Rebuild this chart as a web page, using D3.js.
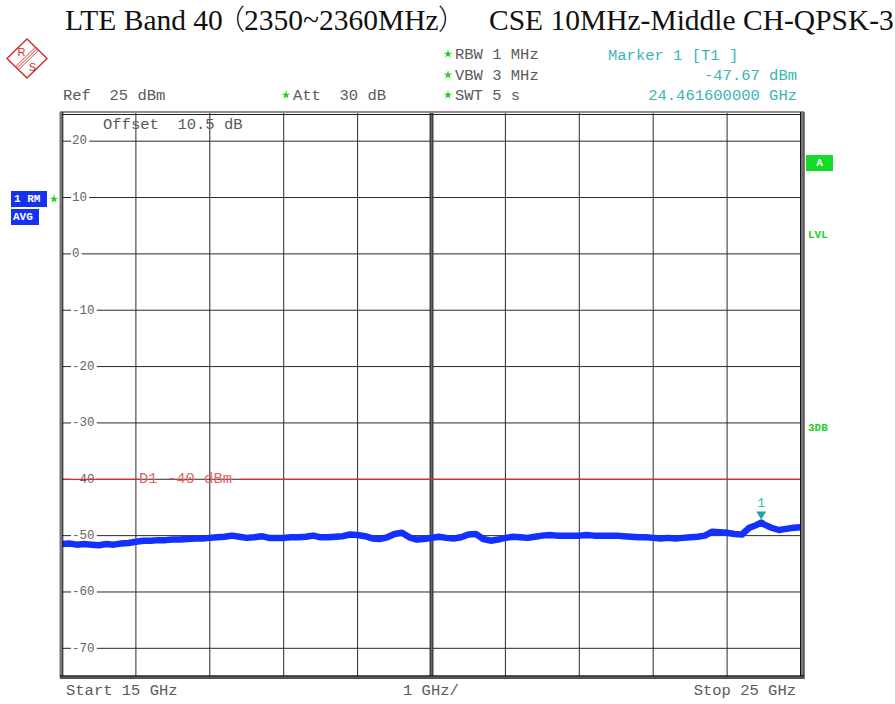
<!DOCTYPE html>
<html>
<head>
<meta charset="utf-8">
<script src="https://cdn.jsdelivr.net/npm/d3@7/dist/d3.min.js"></script>
<style>
  body { margin: 0; background: #fff; }
  svg { display: block; }
</style>
</head>
<body>
<svg id="chart" width="895" height="704"></svg>
<script>
// Spectrum trace: frequency (GHz) and RMS-averaged level (dBm)
const freqGHz = [
  15.0, 15.1, 15.2, 15.3, 15.4, 15.5, 15.6, 15.7, 15.8, 15.9,
  16.0, 16.1, 16.2, 16.3, 16.4, 16.5, 16.6, 16.7, 16.8, 16.9,
  17.0, 17.1, 17.2, 17.3, 17.4, 17.5, 17.6, 17.7, 17.8, 17.9,
  18.0, 18.1, 18.2, 18.3, 18.4, 18.5, 18.6, 18.7, 18.8, 18.9,
  19.0, 19.1, 19.2, 19.3, 19.4, 19.5, 19.6, 19.7, 19.8, 19.9,
  20.0, 20.1, 20.2, 20.3, 20.4, 20.5, 20.6, 20.7, 20.8, 20.9,
  21.0, 21.1, 21.2, 21.3, 21.4, 21.5, 21.6, 21.7, 21.8, 21.9,
  22.0, 22.1, 22.2, 22.3, 22.4, 22.5, 22.6, 22.7, 22.8, 22.9,
  23.0, 23.1, 23.2, 23.3, 23.4, 23.5, 23.6, 23.7, 23.8, 23.9,
  24.0, 24.1, 24.2, 24.3, 24.4, 24.4616, 24.5, 24.6, 24.7, 24.8, 24.9, 25.0
];
const levelDbm = [
  -51.5, -51.4, -51.6, -51.5, -51.6, -51.7, -51.5, -51.6, -51.4, -51.3,
  -51.1, -50.9, -50.9, -50.8, -50.8, -50.7, -50.7, -50.6, -50.5, -50.5,
  -50.4, -50.3, -50.2, -50.0, -50.2, -50.4, -50.3, -50.1, -50.4, -50.4,
  -50.4, -50.3, -50.3, -50.2, -50.0, -50.3, -50.3, -50.2, -50.1, -49.8,
  -49.9, -50.1, -50.5, -50.6, -50.3, -49.7, -49.5, -50.3, -50.7, -50.6,
  -50.4, -50.2, -50.4, -50.5, -50.3, -49.8, -49.7, -50.6, -50.9, -50.7,
  -50.4, -50.2, -50.3, -50.4, -50.2, -50.0, -49.9, -50.0, -50.0, -50.0,
  -50.0, -49.9, -50.0, -50.0, -50.0, -50.0, -50.1, -50.2, -50.3, -50.3,
  -50.4, -50.5, -50.4, -50.5, -50.4, -50.3, -50.2, -50.0, -49.3, -49.4,
  -49.5, -49.7, -49.8, -48.6, -48.1, -47.67, -48.0, -48.6, -49.0, -48.8, -48.6, -48.5
];

// Axis settings
const yTicks = [20, 10, 0, -10, -20, -30, -40, -50, -60, -70];
const xDivisions = [16, 17, 18, 19, 20, 21, 22, 23, 24];
const refLevel = 25;
const bottomLevel = -75;
const startGHz = 15;
const stopGHz = 25;
const displayLineDbm = -40;
const markerFreqGHz = 24.4616;
const markerLevelDbm = -47.67;

const svg = d3.select("#chart");
const mono = "'Liberation Mono', 'Courier New', monospace";
const serif = "'Liberation Serif', 'Times New Roman', serif";
const cjk = "'Noto Sans CJK SC', sans-serif";
const textGray = "#5a5a5a";
const starGreen = "#1ed21e";
const teal = "#3ab5b5";

const plotL = 62, plotR = 801, plotT = 113, plotB = 676.5;
const x = d3.scaleLinear([startGHz, stopGHz], [plotL, plotR]);
const y = d3.scaleLinear([bottomLevel, refLevel], [plotB, plotT]);

// Title
const title = svg.append("text")
  .attr("y", 30)
  .attr("font-family", serif)
  .attr("font-size", 29.5)
  .attr("fill", "#111");
title.append("tspan").attr("x", 65).text("LTE Band 40");
title.append("tspan").attr("x", 217).attr("font-family", cjk).attr("font-weight", 300).attr("font-size", 28).text("（");
title.append("tspan").attr("x", 244).text("2350~2360MHz");
title.append("tspan").attr("x", 438).attr("font-family", cjk).attr("font-weight", 300).attr("font-size", 28).text("）");
title.append("tspan").attr("x", 489).text("CSE 10MHz-Middle CH-QPSK-3");

// Rohde & Schwarz logo
const logo = svg.append("g").attr("transform", "translate(27,58.5)");
logo.append("path")
  .attr("d", "M0,-19.5 L20,0 L0,19.5 L-20,0 Z")
  .attr("fill", "none").attr("stroke", "#d42a2a").attr("stroke-width", 1.4);
[-2.2, 0, 2.2].forEach(o => {
  logo.append("line")
    .attr("x1", -10 + o * 0.7).attr("y1", 9.75 + o * 0.7)
    .attr("x2", 10 + o * 0.7).attr("y2", -9.75 + o * 0.7)
    .attr("stroke", "#d42a2a").attr("stroke-width", 0.9);
});
logo.append("text").attr("x", -5.5).attr("y", -2.5).attr("text-anchor", "middle")
  .attr("font-family", "'Liberation Sans', sans-serif").attr("font-size", 11)
  .attr("fill", "#d42a2a").text("R");
logo.append("text").attr("x", 5.5).attr("y", 12).attr("text-anchor", "middle")
  .attr("font-family", "'Liberation Sans', sans-serif").attr("font-size", 11)
  .attr("fill", "#d42a2a").text("S");

// Small green enhancement stars
function star(cx, cy) {
  svg.append("path")
    .attr("transform", `translate(${cx},${cy})`)
    .attr("d", d3.symbol(d3.symbolStar, 22)())
    .attr("fill", starGreen);
}

function monoText(tx, ty, str, opts = {}) {
  return svg.append("text")
    .attr("x", tx).attr("y", ty)
    .attr("font-family", mono)
    .attr("font-size", opts.size || 15.5)
    .attr("fill", opts.fill || textGray)
    .attr("text-anchor", opts.anchor || "start")
    .attr("dominant-baseline", "middle")
    .style("white-space", "pre")
    .text(str);
}

// Instrument settings header
star(448, 54); monoText(455, 55, "RBW 1 MHz");
star(448, 75); monoText(455, 76, "VBW 3 MHz");
star(448, 95); monoText(455, 96, "SWT 5 s");
monoText(63, 96, "Ref  25 dBm");
star(286, 95); monoText(293, 96, "Att  30 dB");
monoText(608, 56, "Marker 1 [T1 ]", { fill: teal });
monoText(797, 76, "-47.67 dBm", { fill: teal, anchor: "end" });
monoText(797, 96, "24.461600000 GHz", { fill: teal, anchor: "end" });

// Trace badges on the left
svg.append("rect").attr("x", 11).attr("y", 191).attr("width", 36).attr("height", 16).attr("fill", "#1432f0");
monoText(14, 199.5, "1 RM", { size: 11, fill: "#fff" }).attr("font-weight", "bold");
svg.append("rect").attr("x", 11).attr("y", 209).attr("width", 28).attr("height", 16).attr("fill", "#1432f0");
monoText(13, 217.5, "AVG", { size: 11, fill: "#fff" }).attr("font-weight", "bold");
star(54, 199);

// Status flags on the right
svg.append("rect").attr("x", 806).attr("y", 155).attr("width", 27).attr("height", 16).attr("fill", "#12dc28");
monoText(819.5, 163.5, "A", { size: 11, fill: "#fff", anchor: "middle" }).attr("font-weight", "bold");
monoText(808, 235, "LVL", { size: 11, fill: starGreen }).attr("font-weight", "bold");
monoText(808, 428, "3DB", { size: 11, fill: starGreen }).attr("font-weight", "bold");

// Graticule
const grid = svg.append("g");
grid.selectAll("line.v").data(xDivisions.filter(d => d !== 20)).join("line")
  .attr("x1", d => x(d)).attr("x2", d => x(d))
  .attr("y1", plotT).attr("y2", plotB)
  .attr("stroke", "#2a2a2a").attr("stroke-width", 1);
grid.selectAll("line.h").data(yTicks).join("line")
  .attr("x1", plotL).attr("x2", plotR)
  .attr("y1", d => y(d)).attr("y2", d => y(d))
  .attr("stroke", "#2a2a2a").attr("stroke-width", 1);

// Level labels sit on the grid lines with a gap behind them
const labelG = svg.append("g");
yTicks.forEach(v => {
  const s = String(v);
  const w = s.length * 7.6 + 3;
  labelG.append("rect").attr("x", 71).attr("y", y(v) - 6).attr("width", w).attr("height", 12).attr("fill", "#fff");
  labelG.append("text").attr("x", 72).attr("y", y(v))
    .attr("font-family", mono).attr("font-size", 12.5)
    .attr("fill", "#666").attr("dominant-baseline", "middle").text(s);
});

// Centre division (thick)
svg.append("rect").attr("x", x(20) - 1.5).attr("y", plotT).attr("width", 3).attr("height", plotB - plotT).attr("fill", "#666");
svg.append("line").attr("x1", x(20) - 1.5).attr("x2", x(20) - 1.5).attr("y1", plotT).attr("y2", plotB).attr("stroke", "#111").attr("stroke-width", 0.8);
svg.append("line").attr("x1", x(20) + 1.5).attr("x2", x(20) + 1.5).attr("y1", plotT).attr("y2", plotB).attr("stroke", "#111").attr("stroke-width", 0.8);

// Display line D1
const d1y = y(displayLineDbm);
svg.append("line").attr("x1", plotL).attr("x2", 138).attr("y1", d1y).attr("y2", d1y).attr("stroke", "#e02a2a").attr("stroke-width", 1.2);
svg.append("line").attr("x1", 240).attr("x2", plotR).attr("y1", d1y).attr("y2", d1y).attr("stroke", "#e02a2a").attr("stroke-width", 1.2);
monoText(139, d1y, "D1 -40 dBm", { fill: "#f06060" });

// Offset annotation
monoText(103, 125, "Offset  10.5 dB");

// Trace
const line = d3.line().x((d, i) => x(freqGHz[i])).y(d => y(d));
svg.append("path")
  .attr("d", line(levelDbm))
  .attr("fill", "none")
  .attr("stroke", "#1430ff")
  .attr("stroke-width", 6.5)
  .attr("stroke-linejoin", "round");

// Marker 1
const mx = x(markerFreqGHz), my = y(markerLevelDbm);
svg.append("path")
  .attr("d", `M${mx - 5},${my - 11} L${mx + 5},${my - 11} L${mx},${my - 3} Z`)
  .attr("fill", "#1fa3a3");
svg.append("text").attr("x", mx).attr("y", my - 19)
  .attr("font-family", mono).attr("font-size", 13).attr("fill", teal)
  .attr("text-anchor", "middle").attr("dominant-baseline", "middle").text("1");

// Frame
const frame = svg.append("g");
frame.append("line").attr("x1", 60).attr("x2", 804).attr("y1", 112).attr("y2", 112).attr("stroke", "#222").attr("stroke-width", 1);
frame.append("line").attr("x1", 60).attr("x2", 804).attr("y1", 114.5).attr("y2", 114.5).attr("stroke", "#222").attr("stroke-width", 1);
frame.append("rect").attr("x", 59.5).attr("y", 112).attr("width", 3).attr("height", 566).attr("fill", "#777");
frame.append("line").attr("x1", 62.8).attr("x2", 62.8).attr("y1", 112).attr("y2", 678).attr("stroke", "#111").attr("stroke-width", 1);
frame.append("rect").attr("x", 801).attr("y", 112).attr("width", 3).attr("height", 566).attr("fill", "#777");
frame.append("line").attr("x1", 800.5).attr("x2", 800.5).attr("y1", 112).attr("y2", 678).attr("stroke", "#111").attr("stroke-width", 1);
frame.append("line").attr("x1", 804.2).attr("x2", 804.2).attr("y1", 112).attr("y2", 679).attr("stroke", "#111").attr("stroke-width", 0.8);
frame.append("rect").attr("x", 60).attr("y", 676).attr("width", 744).attr("height", 3).attr("fill", "#555");
frame.append("line").attr("x1", 60).attr("x2", 804).attr("y1", 675.8).attr("y2", 675.8).attr("stroke", "#111").attr("stroke-width", 1);

// Frequency axis annotation
monoText(66, 691, "Start 15 GHz");
monoText(403, 691, "1 GHz/");
monoText(796, 691, "Stop 25 GHz", { anchor: "end" });
</script>
</body>
</html>
